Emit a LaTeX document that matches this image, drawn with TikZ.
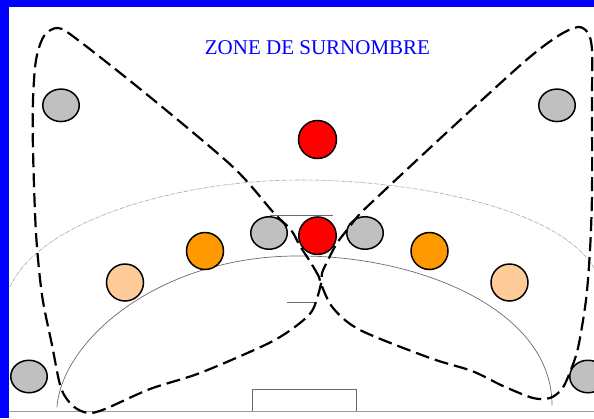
\documentclass[tikz,border=0pt]{standalone}
\usepackage{fontspec}
\setmainfont{Liberation Serif}
\usetikzlibrary{shapes.geometric}
\definecolor{pgray}{HTML}{C0C0C0}
\definecolor{porange}{HTML}{FF9900}
\definecolor{plight}{HTML}{FFCC99}
\definecolor{pblue}{HTML}{0000FF}
\begin{document}
\begin{tikzpicture}[x=1pt,y=-1pt,
  ball/.style={circle,draw=black,line width=1.5pt,inner sep=0pt,minimum size=37pt},
  grayball/.style={ellipse,draw=black,line width=1.5pt,inner sep=0pt,fill=pgray,minimum width=36.5pt,minimum height=32.5pt},
  courtline/.style={draw=gray!85!black,line width=0.7pt},
  outerline/.style={draw=gray!70,line width=0.6pt,dash pattern=on 4pt off 1pt on 0.6pt off 1pt},
  zoneline/.style={draw=black,line width=2.2pt,dash pattern=on 14pt off 6pt}]
\useasboundingbox (0,0) rectangle (594,418);
\fill[white] (0,0) rectangle (594,418);
\fill[pblue] (0,0) rectangle (9,418);
\fill[pblue] (0,0) rectangle (594,7);
% title
\node[anchor=base,text=pblue,font=\fontsize{21}{21}\selectfont,inner sep=0pt] (title) at (317.5,54) {ZONE DE SURNOMBRE};
% court lines
\draw[outerline] (10,287) .. controls (40,220) and (180,180) .. (300,180) .. controls (420,180) and (560,210) .. (594,268);
\draw[courtline] (57,407) .. controls (62,340) and (160,255) .. (300,256) .. controls (420,256) and (552,310) .. (552,405);
\draw[courtline] (270,215) -- (333,215);
\draw[courtline] (287,302) -- (315,302);
\draw[courtline] (252.5,411) -- (252.5,389.3) -- (356,389.3) -- (356,411);
\draw[draw=gray!80,line width=1.6pt] (9,411.5) -- (594,411.5);
% players
\node[grayball] (g1) at (61,105.3) {};
\node[grayball] (g2) at (557,105.3) {};
\node[ball,fill=red,minimum size=38pt] (r1) at (317.5,139.5) {};
\node[ball,fill=red,minimum size=37.5pt] (r2) at (317.5,235.7) {};
\node[grayball] (g3) at (269,233) {};
\node[grayball] (g4) at (365,233) {};
\node[ball,fill=porange] (o1) at (205,251) {};
\node[ball,fill=porange] (o2) at (429.5,251) {};
\node[ball,fill=plight] (l1) at (125,282.5) {};
\node[ball,fill=plight] (l2) at (509.5,282.5) {};
\node[grayball] (g5) at (29,376.5) {};
\node[grayball] (g6) at (588,376.5) {};
% zone
\draw[zoneline] plot[smooth cycle,tension=0.5] coordinates {
 (321,284) (319,277) (311,263) (300,246) (291,230) (273,212) (233,167) (150,97) (78,40) (58,28)
 (44,36) (36,60) (33,100) (33,150) (36,233) (42,295) (52,345) (61,388) (73,406) (88,413)
 (105,409) (150,389) (200,373) (265,345) (292,329) (312,311) (321,284)
 (322,273) (329,258) (337,243) (347,230) (358,216) (370,204) (445,134) (524,62) (558,36)
 (578,27) (588,33) (592,50) (592,100) (592,193) (590,250) (586,300) (578,348) (570,372)
 (562,389) (550,398) (533,398) (503,386) (472,371) (430,358) (360,330) (333,308) };
\end{tikzpicture}
\end{document}
